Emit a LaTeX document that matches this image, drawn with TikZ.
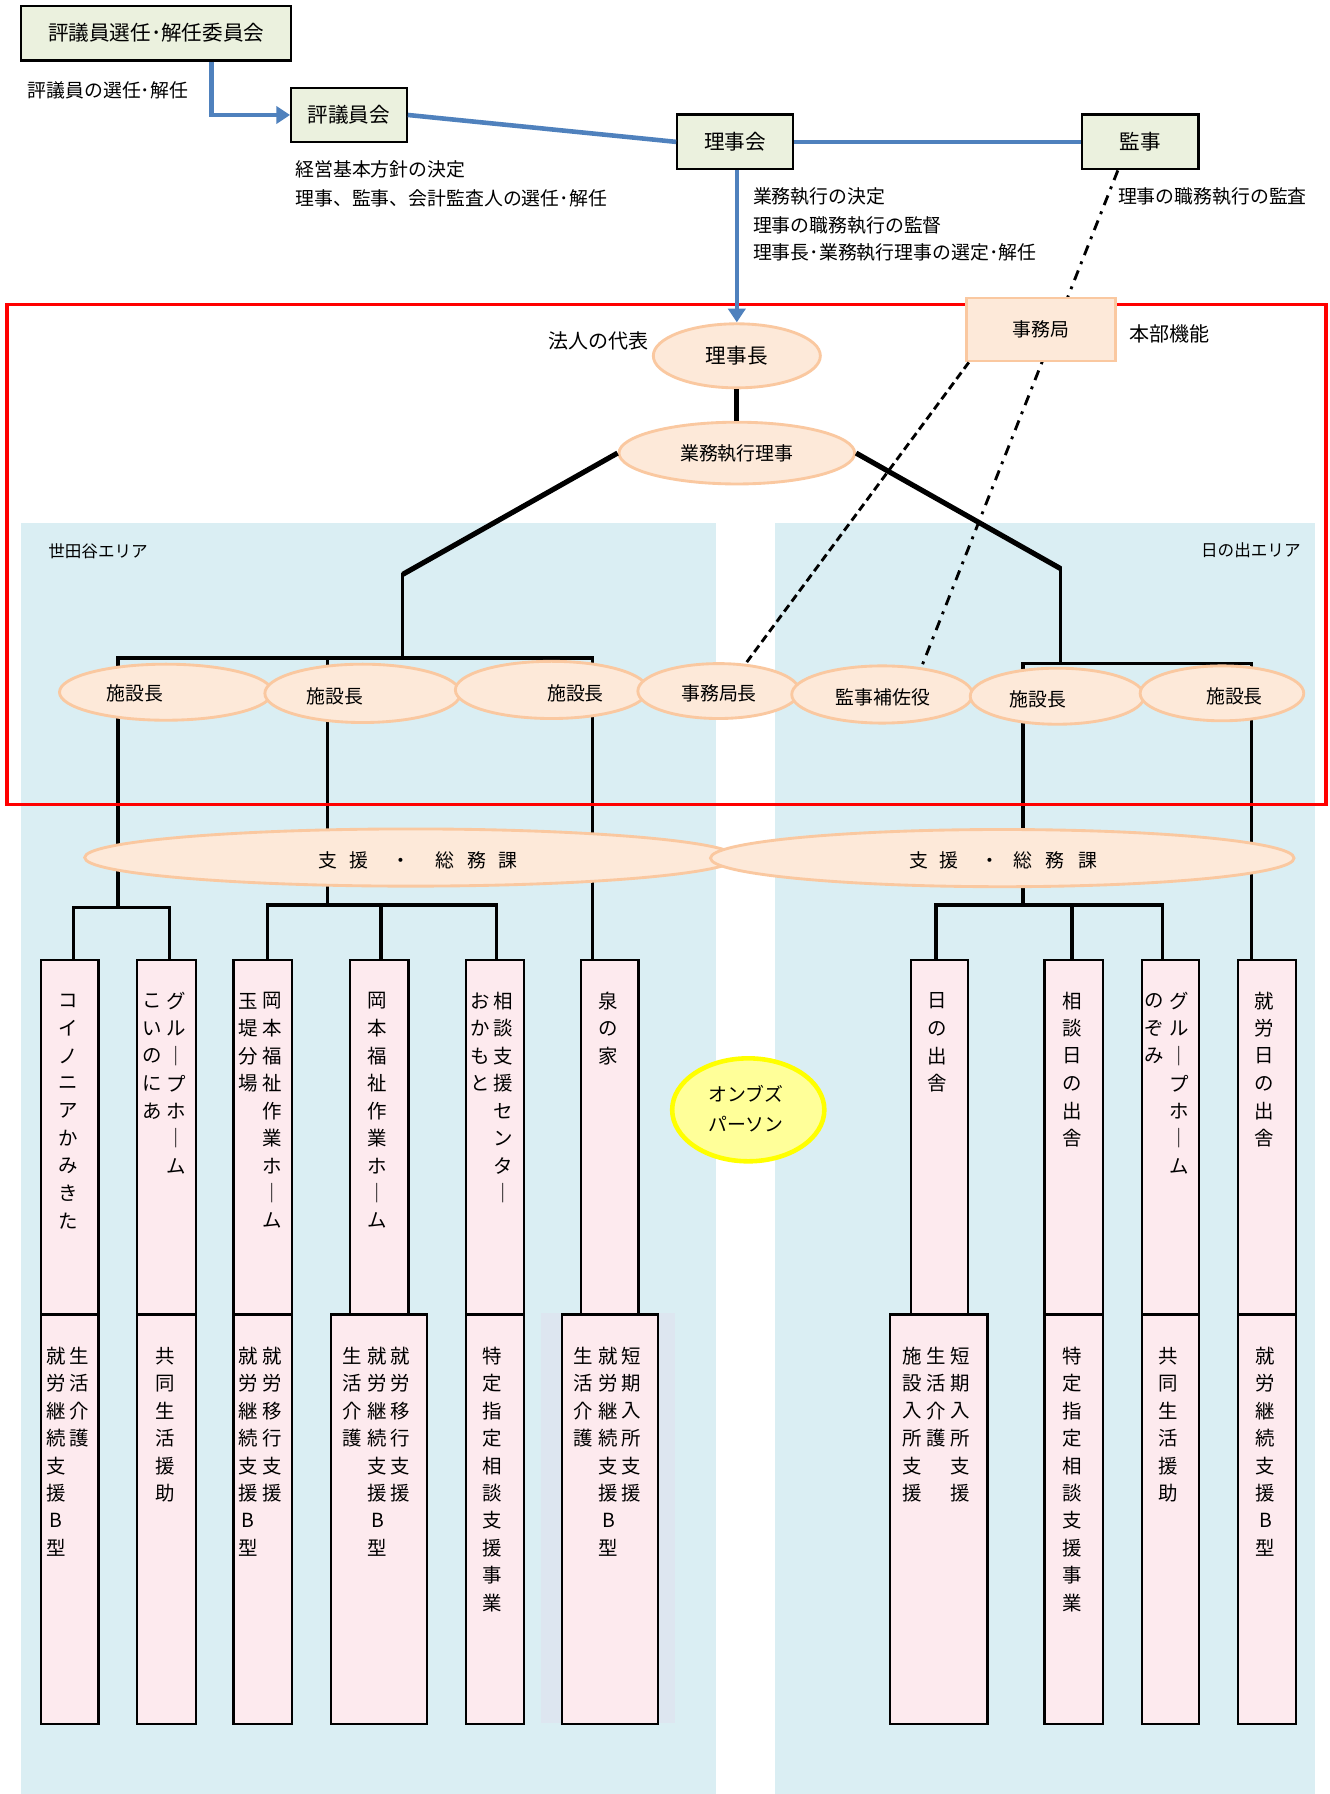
\documentclass[tikz,border=0pt]{standalone}
\usepackage{fontspec}
\setmainfont{Noto Sans CJK JP}
\usetikzlibrary{shapes.geometric,arrows.meta,calc}
\definecolor{topgreen}{RGB}{235,241,222}
\definecolor{bluel}{RGB}{79,129,189}
\definecolor{peachfill}{RGB}{253,233,217}
\definecolor{peachline}{RGB}{250,200,160}
\definecolor{areablue}{RGB}{218,238,243}
\definecolor{pinkfill}{RGB}{253,234,238}
\definecolor{shadebg}{RGB}{221,230,240}
\definecolor{yellowfill}{RGB}{255,255,153}
\definecolor{yellowline}{RGB}{255,255,0}
\tikzset{
  topbox/.style={draw=black, line width=2pt, fill=topgreen, inner sep=0pt, font=\fontsize{18}{20}\selectfont},
  peach/.style={ellipse, draw=peachline, line width=2.5pt, fill=peachfill, inner sep=0pt, font=\fontsize{18}{20}\selectfont},
  peachbox/.style={draw=peachline, line width=2.5pt, fill=peachfill, inner sep=0pt, font=\fontsize{16.5}{18}\selectfont},
  lbl/.style={inner sep=0pt, font=\fontsize{16.5}{18}\selectfont},
  ptxt/.style={inner sep=0pt, font=\fontsize{16.5}{18}\selectfont},
  smalllbl/.style={inner sep=0pt, font=\fontsize{14.5}{16}\selectfont},
  bluecon/.style={draw=bluel, line width=4pt},
  bluetip/.style={-{Triangle[length=12pt,width=15pt]}},
  pinkbox/.style={draw=black, line width=2pt, fill=pinkfill, inner sep=0pt, anchor=north west},
  vch/.style={inner sep=0pt, anchor=center, font=\fontsize{17}{20}\selectfont},
  treethick/.style={line width=4.5pt},
  tree/.style={line width=3pt, line cap=rect},
}
\newcommand\vcol[4]{\foreach \c [count=\i] in {#4} {\node[vch] (#1-\i) at (#2,{#3+24*(\i-1)}) {\c};}}
\begin{document}
\begin{tikzpicture}[x=1pt,y=-1pt]
\useasboundingbox (0,0) rectangle (1162,1568);
\fill[white] (0,0) rectangle (1162,1568);

% area backgrounds
\fill[areablue] (18,457) rectangle (626,1568);
\fill[areablue] (677,457) rectangle (1149,1568);
\fill[shadebg] (473,1148) rectangle (590,1506);
\node[smalllbl, anchor=west] (setagaya) at (42,482) {世田谷エリア};
\node[smalllbl, anchor=east] (hinode) at (1137,481) {日の出エリア};

% ellipses of the management
\node[peach, minimum width=146pt, minimum height=56pt] (rijicho) at (644,311) {理事長};
\node[peach, minimum width=206pt, minimum height=54pt, font=\fontsize{16.5}{18}\selectfont] (gyomu) at (644,396) {業務執行理事};
\node[lbl, anchor=east, font=\fontsize{17.5}{19}\selectfont] (hojin) at (567,298) {法人の代表};
\node[lbl, anchor=west, font=\fontsize{17.5}{19}\selectfont] (honbu) at (987,292) {本部機能};

% tree coordinates
\coordinate (jl) at (352,502);
\coordinate (jlb) at (352,575);
\coordinate (b1) at (103,575);
\coordinate (b2) at (286,575);
\coordinate (b3) at (518,575);
\coordinate (k1) at (103,793);
\coordinate (k1a) at (64,793);
\coordinate (k1b) at (148,793);
\coordinate (k2) at (286,791);
\coordinate (k2a) at (234,791);
\coordinate (k2b) at (333,791);
\coordinate (k2c) at (434,791);
\coordinate (jr) at (927,497);
\coordinate (jrb) at (927,580);
\coordinate (b6) at (894,580);
\coordinate (b7) at (1094,580);
\coordinate (k3) at (894,791);
\coordinate (k3a) at (818,791);
\coordinate (k3b) at (937,791);
\coordinate (k3c) at (1016,791);

% upper boxes
\node[pinkbox, minimum width=50pt, minimum height=310pt] (u1) at (35,838) {};
\node[pinkbox, minimum width=51pt, minimum height=310pt] (u2) at (119,838) {};
\node[pinkbox, minimum width=51pt, minimum height=310pt] (u3) at (203,838) {};
\node[pinkbox, minimum width=51pt, minimum height=310pt] (u4) at (305,838) {};
\node[pinkbox, minimum width=51pt, minimum height=310pt] (u5) at (406,838) {};
\node[pinkbox, minimum width=50pt, minimum height=310pt] (u6) at (507,838) {};
\node[pinkbox, minimum width=50pt, minimum height=310pt] (u7) at (795,838) {};
\node[pinkbox, minimum width=51pt, minimum height=310pt] (u8) at (912,838) {};
\node[pinkbox, minimum width=50pt, minimum height=310pt] (u9) at (997,838) {};
\node[pinkbox, minimum width=51pt, minimum height=310pt] (u10) at (1081,838) {};

% lower boxes
\node[pinkbox, minimum width=50pt, minimum height=358pt] (l1) at (35,1148) {};
\node[pinkbox, minimum width=51pt, minimum height=358pt] (l2) at (119,1148) {};
\node[pinkbox, minimum width=51pt, minimum height=358pt] (l3) at (203,1148) {};
\node[pinkbox, minimum width=84pt, minimum height=358pt] (l4) at (288,1148) {};
\node[pinkbox, minimum width=51pt, minimum height=358pt] (l5) at (406,1148) {};
\node[pinkbox, minimum width=84pt, minimum height=358pt] (l6) at (490,1148) {};
\node[pinkbox, minimum width=85pt, minimum height=358pt] (l7) at (777,1148) {};
\node[pinkbox, minimum width=51pt, minimum height=358pt] (l8) at (912,1148) {};
\node[pinkbox, minimum width=50pt, minimum height=358pt] (l9) at (997,1148) {};
\node[pinkbox, minimum width=51pt, minimum height=358pt] (l10) at (1081,1148) {};

% tree lines
\draw[treethick] (rijicho.south) -- (gyomu.north);
\draw[treethick] (gyomu.west) -- (jl);
\draw[tree] (jl) -- (jlb);
\draw[tree] (b1) -- (b3);
\draw[tree] (b1) -- (k1);
\draw[tree] (k1a) -- (k1b);
\draw[tree] (k1a) -- (k1a |- u1.north);
\draw[tree] (k1b) -- (k1b |- u2.north);
\draw[tree] (b2) -- (k2);
\draw[tree] (k2a) -- (k2c);
\draw[tree] (k2a) -- (k2a |- u3.north);
\draw[tree] (k2b) -- (k2b |- u4.north);
\draw[tree] (k2c) -- (k2c |- u5.north);
\draw[tree] (b3) -- (b3 |- u6.north);
\draw[treethick] (gyomu.east) -- (jr);
\draw[tree] (jr) -- (jrb);
\draw[tree] (b6) -- (b7);
\draw[tree] (b6) -- (k3);
\draw[tree] (k3a) -- (k3c);
\draw[tree] (k3a) -- (k3a |- u7.north);
\draw[tree] (k3b) -- (k3b |- u8.north);
\draw[tree] (k3c) -- (k3c |- u9.north);
\draw[tree] (b7) -- (b7 |- u10.north);

% row of ellipses
\node[peach, minimum width=186pt, minimum height=49pt] (e1) at (145,605) {};
\node[ptxt] (e1t) at (118,606) {施設長};
\node[peach, minimum width=171pt, minimum height=51pt] (e2) at (317,606) {};
\node[ptxt] (e2t) at (293,608.5) {施設長};
\node[peach, minimum width=168pt, minimum height=50pt] (e3) at (482,603) {};
\node[ptxt] (e3t) at (503,606) {施設長};
\node[peach, minimum width=141pt, minimum height=48pt] (e4) at (628,604) {};
\node[ptxt] (e4t) at (628.5,606) {事務局長};
\node[peach, minimum width=158pt, minimum height=50pt] (e5) at (771,607) {};
\node[ptxt] (e5t) at (771.5,609.5) {監事補佐役};
\node[peach, minimum width=152pt, minimum height=49pt] (e6) at (924,608.5) {};
\node[ptxt] (e6t) at (907,611) {施設長};
\node[peach, minimum width=143pt, minimum height=48pt] (e7) at (1068,606) {};
\node[ptxt] (e7t) at (1079,608.5) {施設長};

% support / general affairs
\node[peach, minimum width=570pt, minimum height=50pt] (shienL) at (359,749.5) {};
\node[ptxt, font=\fontsize{16.5}{18}\selectfont] (shienLt) at (365.5,752) {支\hspace{10.5pt}援\hspace{19.5pt}・\hspace{22.5pt}総\hspace{11.5pt}務\hspace{10.5pt}課};
\node[peach, minimum width=510pt, minimum height=50pt] (shienR) at (876,750) {};
\node[ptxt, font=\fontsize{16.5}{18}\selectfont] (shienRt) at (876.8,752) {支\hspace{10pt}援\hspace{19.5pt}・\hspace{12pt}総\hspace{12pt}務\hspace{12pt}課};

% vertical texts, upper boxes
\vcol{ua}{59.5}{875}{コ,イ,ノ,ニ,ア,か,み,き,た}
\vcol{uba}{154}{875}{グ,ル,｜,プ,ホ,｜,ム}
\vcol{ubb}{133}{875}{こ,い,の,に,あ}
\vcol{uca}{238}{875}{岡,本,福,祉,作,業,ホ,｜,ム}
\vcol{ucb}{217}{875}{玉,堤,分,場}
\vcol{ud}{330}{875}{岡,本,福,祉,作,業,ホ,｜,ム}
\vcol{uea}{440}{875}{相,談,支,援,セ,ン,タ,｜}
\vcol{ueb}{420}{875}{お,か,も,と}
\vcol{uf}{532}{875}{泉,の,家}
\vcol{ug}{819}{875}{日,の,出,舎}
\vcol{uh}{937}{875}{相,談,日,の,出,舎}
\vcol{uia}{1031}{875}{グ,ル,｜,プ,ホ,｜,ム}
\vcol{uib}{1009}{875}{の,ぞ,み}
\vcol{uj}{1105}{875}{就,労,日,の,出,舎}

% vertical texts, lower boxes
\vcol{la}{69.5}{1185}{生,活,介,護}
\vcol{lb}{49}{1185}{就,労,継,続,支,援,B,型}
\vcol{lc}{144}{1185}{共,同,生,活,援,助}
\vcol{lda}{238}{1185}{就,労,移,行,支,援}
\vcol{ldb}{217}{1185}{就,労,継,続,支,援,B,型}
\vcol{lea}{350}{1185}{就,労,移,行,支,援}
\vcol{leb}{330}{1185}{就,労,継,続,支,援,B,型}
\vcol{lec}{308}{1185}{生,活,介,護}
\vcol{lf}{430}{1185}{特,定,指,定,相,談,支,援,事,業}
\vcol{lga}{552}{1185}{短,期,入,所,支,援}
\vcol{lgb}{532}{1185}{就,労,継,続,支,援,B,型}
\vcol{lgc}{510}{1185}{生,活,介,護}
\vcol{lha}{839}{1185}{短,期,入,所,支,援}
\vcol{lhb}{818}{1185}{生,活,介,護}
\vcol{lhc}{797}{1185}{施,設,入,所,支,援}
\vcol{li}{937}{1185}{特,定,指,定,相,談,支,援,事,業}
\vcol{lj}{1021}{1185}{共,同,生,活,援,助}
\vcol{lk}{1106}{1185}{就,労,継,続,支,援,B,型}

% ombudsperson
\node[ellipse, draw=yellowline, line width=4pt, fill=yellowfill, minimum width=133pt, minimum height=90pt, inner sep=0pt] (ombuds) at (654,970) {};
\node[inner sep=0pt, align=center, font=\fontsize{16.5}{26}\selectfont] (ombudst) at (652,969) {オンブズ\\パーソン};

% red frame
\draw[red, line width=3pt] (6,266) rectangle (1159,703);

% top boxes
\node[topbox, minimum width=236pt, minimum height=48pt] (iinkai) at (136.5,29) {評議員選任･解任委員会};
\node[topbox, minimum width=101pt, minimum height=47pt] (hyogiin) at (305,100.5) {評議員会};
\node[topbox, minimum width=101pt, minimum height=48pt] (rijikai) at (642.5,124) {理事会};
\node[topbox, minimum width=102pt, minimum height=48pt] (kanji) at (996.5,124) {監事};

% audit and office lines
\draw[line width=2.5pt, dash pattern=on 9pt off 6pt on 2.5pt off 6pt] ($(kanji.south)+(-19.5,0)$) -- ($(e5.center)+(34,-23)$);
\node[peachbox, minimum width=130pt, minimum height=55pt] (jimu) at (910,288) {事務局};
\draw[line width=2.5pt, dash pattern=on 7pt off 4pt] ($(jimu.south west)+(3,0)$) -- ($(e4.center)+(23,-23)$);

% blue connectors
\draw[bluecon, bluetip] ($(iinkai.south)+(48.5,0)$) |- (hyogiin.west);
\draw[bluecon] (hyogiin.east) -- (rijikai.west);
\draw[bluecon] (rijikai.east) -- (kanji.west);
\draw[bluecon, bluetip] (rijikai.south -| rijicho.north) -- (rijicho.north);

% labels
\node[lbl, anchor=west] (t1) at (24,79) {評議員の選任･解任};
\node[lbl, anchor=west] (t2) at (258,148) {経営基本方針の決定};
\node[lbl, anchor=west] (t3) at (258,173) {理事、監事、会計監査人の選任･解任};
\node[lbl, anchor=west] (t4) at (658,172) {業務執行の決定};
\node[lbl, anchor=west] (t5) at (658,197) {理事の職務執行の監督};
\node[lbl, anchor=west] (t6) at (658,221) {理事長･業務執行理事の選定･解任};
\node[lbl, anchor=west] (t7) at (977,172) {理事の職務執行の監査};
\end{tikzpicture}
\end{document}
